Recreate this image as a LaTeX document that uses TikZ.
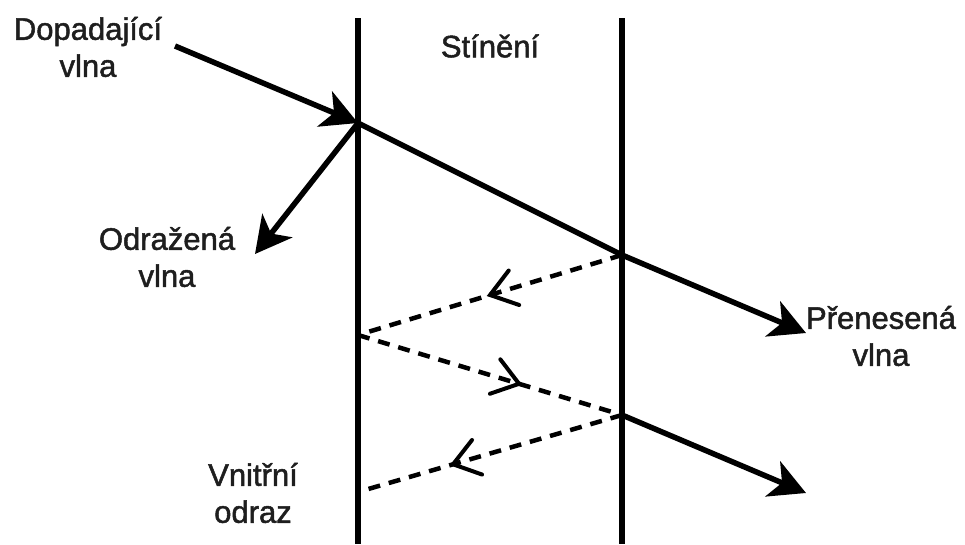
\documentclass[tikz,border=0pt]{standalone}
\usepackage{fontspec}
\setmainfont{Liberation Sans}
\newfontfamily\lblfont{Liberation Sans}[FakeBold=1.6]
\usetikzlibrary{arrows.meta,decorations.markings}
\definecolor{lblgray}{RGB}{30,30,30}
\begin{document}
\begin{tikzpicture}[x=1pt,y=-1pt,
  wall/.style={line width=5.5pt},
  wave/.style={line width=5.5pt,-{Stealth[length=36pt,width=38pt,inset=10pt]}},
  echo/.style={line width=4.5pt,dash pattern=on 12pt off 9pt},
  midarrow/.style={postaction={decorate},decoration={markings,
     mark=at position #1 with {\draw[solid,line width=4pt,line cap=round,line join=miter]
        (-25pt,18pt) -- (0pt,0pt) -- (-25pt,-18pt);}}},
  lbl/.style={font=\lblfont\fontsize{31}{37}\selectfont,text=lblgray,align=center,inner sep=0pt}]
\useasboundingbox (0,0) rectangle (965,544);
% walls
\coordinate (W1t) at (358,18);
\coordinate (W1b) at (358,544);
\coordinate (W2t) at (622,18);
\coordinate (W2b) at (622,544);
\draw[wall] (W1t) -- (W1b);
\draw[wall] (W2t) -- (W2b);
% key points
\coordinate (A) at (175,46);
\coordinate (P1) at (358,123);
\coordinate (P2) at (622,255);
\coordinate (T) at (806,333);
\coordinate (R) at (255,254);
\coordinate (Q1) at (358,335);
\coordinate (Q2) at (622,415);
\coordinate (Q3) at (358,492);
\coordinate (T2) at (806,493);
% solid waves
\draw[wave] (A) -- (P1);
\draw[wall] (P1) -- (P2);
\draw[wave] (P2) -- (T);
\draw[wave] (P1) -- (R);
\draw[wave] (Q2) -- (T2);
% internal reflections
\draw[echo,midarrow=0.5] (P2) -- (Q1);
\draw[echo,midarrow=0.61] (Q1) -- (Q2);
\draw[echo,midarrow=0.64] (Q2) -- (Q3);
% labels
\node[lbl] (inc) at (88,47) {Dopadající\\vlna};
\node[lbl] (shd) at (490,46) {Stínění};
\node[lbl] (refl) at (167,257) {Odražená\\vlna};
\node[lbl] (trans) at (881,336) {Přenesená\\vlna};
\node[lbl] (inner) at (253,493) {Vnitřní\\odraz};
\end{tikzpicture}
\end{document}
